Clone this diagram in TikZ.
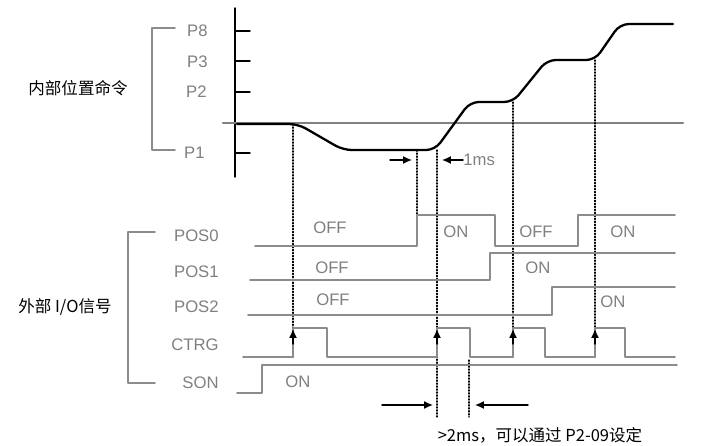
\documentclass[tikz,border=0pt]{standalone}
\usepackage{fontspec}
\setmainfont{Liberation Sans}
\newfontfamily\cjk{Noto Sans CJK SC}
\usetikzlibrary{arrows.meta}

\begin{document}
\begin{tikzpicture}[
  x=0.02cm,
  y=-0.02cm,
  line cap=round,
  line join=round,
  sig/.style={black!45, line width=0.9pt},
  guide/.style={black, densely dotted, line width=0.7pt},
  lbl/.style={text=black!50, font=\fontsize{9.5}{11}\selectfont, inner sep=0pt},
  cjklbl/.style={text=black, font=\cjk\fontsize{9.4}{11}\selectfont, inner sep=0pt},
  tip/.style={-{Latex[length=5pt,width=4.5pt]}, line width=0.8pt}
]
  \useasboundingbox (0,0) rectangle (718,446);

  % Подписи слева
  \node[cjklbl] (IntCmd) at (78,88) {内部位置命令};
  \node[cjklbl] (ExtIO) at (65,307) {外部 I/O信号};

  % Скобки
  \draw[sig] (175,28) -- (152,28) -- (152,150) -- (175,150);
  \draw[sig] (155,232) -- (128,232) -- (128,383) -- (155,383);

  % Уровни позиций
  \node[lbl, anchor=east] (P8) at (208,31) {P8};
  \node[lbl, anchor=east] (P3) at (208,62) {P3};
  \node[lbl, anchor=east] (P2) at (207,92) {P2};
  \node[lbl, anchor=east] (P1) at (205,153) {P1};

  % Ось
  \draw[line width=0.8pt] (235,8) -- (235,177);
  \draw[line width=0.8pt] (235,31) -- (250,31);
  \draw[line width=0.8pt] (235,61) -- (250,61);
  \draw[line width=0.8pt] (235,92) -- (250,92);
  \draw[line width=0.8pt] (235,153) -- (250,153);

  % Нулевая линия
  \draw[black!50, line width=1.2pt] (223,123) -- (683,123);

  % Команда положения
  \draw[line width=1.3pt, rounded corners=5pt]
    (237,124) -- (298,124) -- (343,150) -- (435,150) -- (470,102)
    -- (513,102) -- (547,60) -- (595,60) -- (620,24) -- (673,24);

  % Точки на кривой
  \coordinate (A) at (293,124);
  \coordinate (B) at (417,150);
  \coordinate (C) at (437,150);
  \coordinate (D) at (513,102);
  \coordinate (E) at (595,60);

  % Концы пунктиров
  \coordinate (A1) at (293,357);
  \coordinate (B1) at (417,215);
  \coordinate (C1) at (437,417);
  \coordinate (F) at (469,360);
  \coordinate (F1) at (469,417);
  \coordinate (D1) at (513,357);
  \coordinate (E1) at (595,357);

  % Пунктиры
  \draw[guide] (A) -- (A1);
  \draw[guide] (B) -- (B1);
  \draw[guide] (C) -- (C1);
  \draw[guide] (F) -- (F1);
  \draw[guide] (D) -- (D1);
  \draw[guide] (E) -- (E1);

  % Сигналы входов
  \node[lbl, anchor=east] (POS0) at (219,236) {POS0};
  \node[lbl, anchor=east] (POS1) at (219,272) {POS1};
  \node[lbl, anchor=east] (POS2) at (219,307) {POS2};
  \node[lbl, anchor=east] (CTRG) at (219,345) {CTRG};
  \node[lbl, anchor=east] (SON) at (219,383) {SON};

  \draw[sig] (255,246) -- (417,246) -- (417,215) -- (495,215) -- (495,246)
    -- (578,246) -- (578,215) -- (675,215);
  \draw[sig] (250,280) -- (490,280) -- (490,253) -- (675,253);
  \draw[sig] (248,315) -- (552,315) -- (552,287) -- (675,287);
  \draw[sig] (243,357) -- (293,357) -- (293,328) -- (327,328) -- (327,357)
    -- (437,357) -- (437,328) -- (470,328) -- (470,357)
    -- (513,357) -- (513,328) -- (545,328) -- (545,357)
    -- (595,357) -- (595,328) -- (625,328) -- (625,357) -- (675,357);
  \draw[sig] (237,393) -- (262,393) -- (262,365) -- (677,365);

  % Состояния
  \node[lbl] (s1) at (330,228) {OFF};
  \node[lbl] (s2) at (332,268) {OFF};
  \node[lbl] (s3) at (333,300) {OFF};
  \node[lbl] (s4) at (298,382) {ON};
  \node[lbl] (s5) at (456,232) {ON};
  \node[lbl] (s6) at (536,232) {OFF};
  \node[lbl] (s7) at (623,232) {ON};
  \node[lbl] (s8) at (538,268) {ON};
  \node[lbl] (s9) at (613,302) {ON};

  % Фронты CTRG
  \draw[tip] (293,344) -- (293,329);
  \draw[tip] (437,344) -- (437,329);
  \draw[tip] (513,344) -- (513,329);
  \draw[tip] (595,344) -- (595,329);

  % 1ms
  \coordinate (G) at (390,160);
  \coordinate (H) at (463,160);
  \draw[tip] (G) -- (412,160);
  \draw[tip] (H) -- (442,160);
  \node[lbl, anchor=west] (Tms) at (H) {1ms};

  % >2ms
  \coordinate (K) at (382,405);
  \coordinate (L) at (528,405);
  \draw[tip] (K) -- (433,405);
  \draw[tip] (L) -- (475,405);
  \node[cjklbl] (Note) at (540,435) {>2ms，可以通过 P2-09设定};
\end{tikzpicture}
\end{document}
